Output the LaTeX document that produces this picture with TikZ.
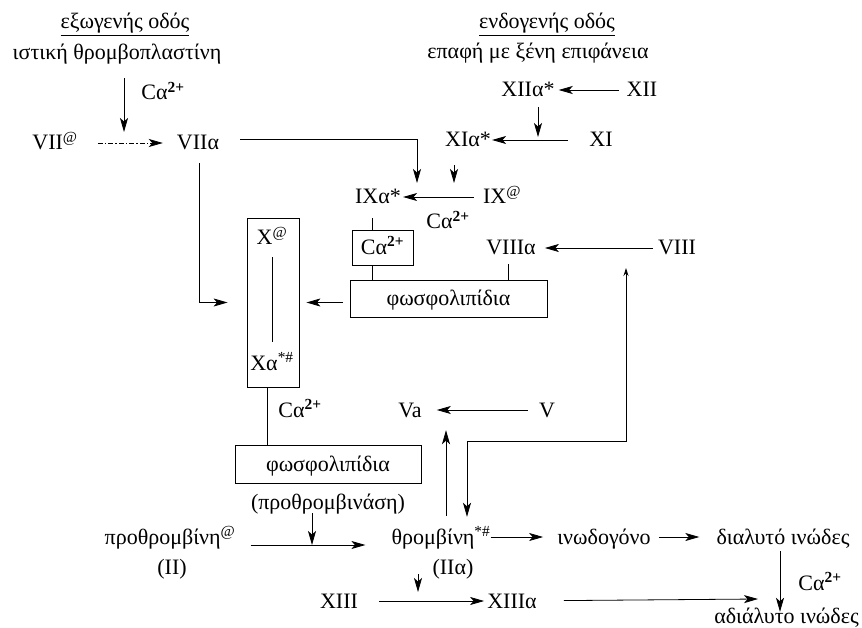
\documentclass[tikz,border=0pt]{standalone}
\usepackage{fontspec}
\setmainfont{Liberation Serif}
\usetikzlibrary{arrows.meta,calc}
\newcommand\caion{Cα\textsuperscript{\textbf{2+}}}
\begin{document}
\begin{tikzpicture}[x=1pt,y=-1pt,
  lbl/.style={inner sep=0pt, text height=14pt, text depth=0pt, font=\fontsize{22}{25}\selectfont},
  box/.style={lbl, draw, line width=0.8pt},
  conn/.style={line width=0.8pt},
  arr/.style={conn, -{Stealth[length=14pt,width=8pt,inset=3.5pt]}},
  dashpat/.style={dash pattern=on 5pt off 2pt on 1.5pt off 2pt}
]
\useasboundingbox (0,0) rectangle (862,628);
% ---- nodes
\node[lbl] (hExo) at (125,22) {\underline{εξωγενής οδός}};
\node[lbl] (tThr) at (117,53) {ιστική θρομβοπλαστίνη};
\node[lbl] (caA) at (163,93) {\caion};
\node[lbl] (VII) at (55,143) {VII\textsuperscript{@}};
\node[lbl] (VIIa) at (198,143) {VIIα};
\node[lbl] (hEndo) at (547,22) {\underline{ενδογενής οδός}};
\node[lbl] (tCon) at (538,52) {επαφή με ξένη επιφάνεια};
\node[lbl] (XIIa) at (528,90) {XIIα*};
\node[lbl] (XII) at (642,90) {XII};
\node[lbl] (XIa) at (468,140) {XIα*};
\node[lbl] (XI) at (601,140) {XI};
\node[lbl] (IXa) at (378,197) {IXα*};
\node[lbl] (IX) at (502,197) {IX\textsuperscript{@}};
\node[lbl] (caB) at (448,222) {\caion};
\node[box, minimum width=61pt, minimum height=35pt] (caBox) at (382.5,247.5) {\caion};
\node[lbl] (VIIIa) at (511,248) {VIIIα};
\node[lbl] (VIII) at (677,248) {VIII};
\node[box, minimum width=197pt, minimum height=37pt] (phos1) at (448.5,298.5) {φωσφολιπίδια};
\node[conn, draw, minimum width=52pt, minimum height=169pt, inner sep=0pt] (Xbox) at (273,302.5) {};
\node[lbl] (X) at (272,238) {X\textsuperscript{@}};
\node[lbl] (Xa) at (272,363) {Xα\textsuperscript{*\#}};
\node[lbl] (caC) at (300,410) {\caion};
\node[lbl] (Va) at (410,410) {Va};
\node[lbl] (V) at (547,410) {V};
\node[box, minimum width=186pt, minimum height=38pt] (phos2) at (328,464) {φωσφολιπίδια};
\node[lbl] (prot) at (328,502) {(προθρομβινάση)};
\node[lbl] (proth) at (170,537) {προθρομβίνη\textsuperscript{@}};
\node[lbl] (II) at (172,567) {(II)};
\node[lbl] (thr) at (441,537) {θρομβίνη\textsuperscript{*\#}};
\node[lbl] (IIa) at (453,567) {(IIα)};
\node[lbl] (fib) at (604,537) {ινωδογόνο};
\node[lbl] (sfib) at (783,537) {διαλυτό ινώδες};
\node[lbl] (caD) at (820,583) {\caion};
\node[lbl, anchor=east] (ifib) at (859,616) {αδιάλυτο ινώδες};
\node[lbl] (XIII) at (339,601) {XIII};
\node[lbl] (XIIIa) at (512,601) {XIIIα};
% ---- free ends
\coordinate (m1) at (124,132);
\coordinate (m3) at (417,183);
\coordinate (m6) at (538,137);
\coordinate (m8) at (454,183);
\coordinate (m18) at (312,545);
\coordinate (m25) at (418,592);
\coordinate (m27) at (758,599);
\coordinate (fb) at (626,268);
\coordinate (fbc) at (626,441);
% ---- connectors
\draw[arr, shorten <=18pt] (m1 |- tThr.south) -- (m1);
\draw[arr, dashpat, shorten <=20pt, shorten >=14pt] (VII) -- (VIIa);
\draw[arr] ([xshift=21pt,yshift=4pt]VIIa.east) -| (m3);
\draw[arr, shorten <=13pt] ([xshift=1pt]VIIa.south) |- ([xshift=-19pt]Xbox.west);
\draw[arr, shorten <=8pt, shorten >=4pt] (XII) -- (XIIa);
\draw[arr, shorten <=10pt] (m6 |- XIIa.south) -- (m6);
\draw[arr, shorten <=21pt, shorten >=1pt] (XI) -- (XIa);
\draw[arr, shorten <=18pt] (m8 |- XIa.south) -- (m8);
\draw[arr, shorten <=9pt, shorten >=2pt] (IX) -- (IXa);
\draw[conn, shorten <=14pt] ([xshift=-10.5pt]caBox.north |- IXa.south) -- ([xshift=-10.5pt]caBox.north);
\draw[conn] ([xshift=-10.5pt]caBox.south) -- ([xshift=-10.5pt]caBox.south |- phos1.north);
\draw[conn, shorten <=9pt] ([xshift=-3pt]VIIIa.south) -- ([xshift=-3pt]VIIIa.south |- phos1.north);
\draw[arr, shorten <=5pt, shorten >=9pt] (VIII) -- (VIIIa);
\draw[arr, shorten <=7pt, shorten >=7pt] (phos1.west |- Xbox.east) -- (Xbox.east);
\draw[conn, shorten <=12pt, shorten >=14pt] (X) -- (Xa);
\draw[conn] ([xshift=-6pt]Xbox.south) -- ([xshift=-6pt]Xbox.south |- phos2.north);
\draw[arr, shorten <=11pt, shorten >=15pt] (V) -- (Va);
\draw[arr, shorten <=4pt] (m18 |- prot.south) -- (m18);
\draw[arr, shorten <=15pt, shorten >=26pt] (proth.east |- m18) -- (thr.west |- m18);
\draw[arr, shorten <=14pt, shorten >=13pt] ([xshift=5pt]thr.north) -- ([xshift=5pt]thr.north |- Va.south);
\draw[conn, {Stealth[length=8pt,width=5pt]}-{Stealth[length=14pt,width=8pt,inset=3.5pt]}, shorten >=13pt] (fb) -- (fbc) -| ([xshift=26pt]thr.north);
\draw[arr, shorten >=14pt] (thr) -- (fib);
\draw[arr, shorten <=8pt, shorten >=17pt] (fib) -- (sfib);
\draw[arr, shorten <=7pt, shorten >=-3pt] ([xshift=-3pt]sfib.south) -- ([xshift=-3pt]sfib.south |- ifib.north);
\draw[arr, shorten <=30pt] (m25 |- thr.south) -- (m25);
\draw[arr, shorten <=21pt, shorten >=3pt] (XIII) -- (XIIIa);
\draw[arr, shorten <=27pt] (XIIIa) -- (m27);
\end{tikzpicture}
\end{document}
